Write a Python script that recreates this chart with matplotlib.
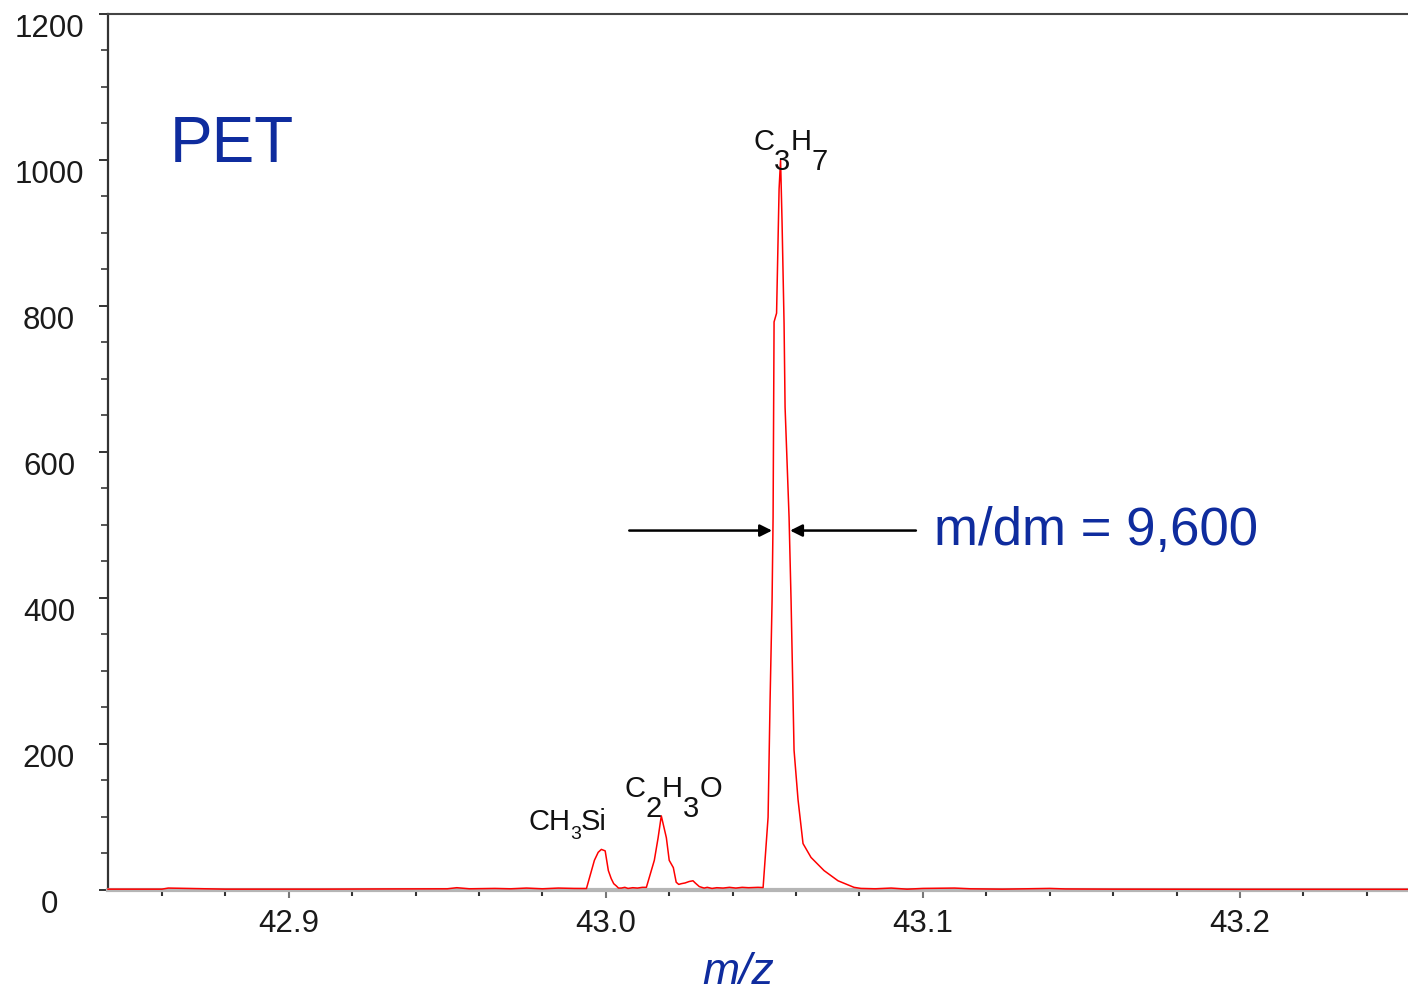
import matplotlib as mpl
import numpy as np
mpl.use('Agg')
import matplotlib.pyplot as plt
from matplotlib.ticker import MultipleLocator


# spectrum (m/z, counts)
mz = [42.843, 42.860, 42.862, 42.880, 42.910, 42.930, 42.950, 42.953, 42.957,
      42.965, 42.970, 42.975, 42.980, 42.985, 42.990, 42.9939,
      42.9964, 42.9976, 42.9986, 42.9998, 43.0008, 43.0017, 43.0025, 43.0033,
      43.0040, 43.0049, 43.0060, 43.0070, 43.0085, 43.0100, 43.0115, 43.0128,
      43.0153, 43.0165, 43.0175, 43.0191, 43.0200, 43.0213, 43.0222, 43.0230,
      43.0238, 43.0250, 43.0263, 43.0275, 43.0282, 43.0295, 43.0310, 43.0320,
      43.0335, 43.0350, 43.0370, 43.0390, 43.0410, 43.0430, 43.0450, 43.0480,
      43.04961, 43.05118, 43.05181, 43.05244, 43.05276, 43.05307, 43.05386,
      43.05465, 43.05512, 43.05559, 43.05622, 43.05654, 43.05780, 43.05843,
      43.05906, 43.05937, 43.06063, 43.06220, 43.06472, 43.06882, 43.07323,
      43.07827, 43.08047, 43.0850, 43.0900, 43.0950, 43.1000, 43.1100,
      43.1150, 43.1250, 43.1400, 43.1450, 43.1600, 43.2000, 43.2530]
counts = [0.5, 0.5, 2.0, 0.5, 0.5, 0.8, 1.0, 2.5, 1.0,
          1.5, 1.0, 2.0, 1.0, 2.0, 1.5, 1.4,
          40, 51, 55, 53, 26, 15, 8, 5,
          2, 2, 3, 1.5, 2.5, 2, 3, 3,
          40, 71, 101, 71, 40, 30, 10, 7,
          8, 9, 11, 12, 9, 4, 2, 3,
          1.5, 2.5, 2, 3, 2, 3, 2.5, 3,
          2.7, 99, 259, 396, 510, 778, 790,
          960, 1000, 914, 776, 661, 510, 396,
          259, 191, 123, 63, 44, 26, 12,
          3, 1.5, 1, 2, 0.5, 1.5, 2,
          1, 0.5, 1.5, 0.8, 0.5, 0.3, 0.3]

y_ticks = [0, 200, 400, 600, 800, 1000, 1200]
x_ticks = [42.9, 43.0, 43.1, 43.2]
x_tick_labels = ['42.9', '43.0', '43.1', '43.2']

# fwhm markers around the main peak
fwhm_left = 43.05244
fwhm_right = 43.05811
fwhm_level = 492

blue = '#0f2c9e'
plt.rcParams['font.family'] = ['Liberation Sans', 'DejaVu Sans']


def formula(ax, x, y, parts):
    # parts: (text, baseline shift in points, fontsize); pieces are chained left to right
    txt, shift, size = parts[0]
    t = ax.text(x, y, txt, fontsize=size, va='baseline', ha='left', color='#111111')
    prev = shift
    for txt, shift, size in parts[1:]:
        t = ax.annotate(txt, xy=(1, 0), xycoords=t, xytext=(0, shift - prev),
                        textcoords='offset points', fontsize=size,
                        va='bottom', ha='left', color='#111111')
        prev = shift


fig = plt.figure(figsize=(14.08, 9.92), dpi=100)
ax = fig.add_axes([0.0767, 0.1033, 0.9233, 0.8826])

ax.plot(mz, counts, color='#ff0000', lw=1.1, zorder=3, clip_on=False)

ax.set_xlim(42.843, 43.253)
ax.set_ylim(0, 1200)

# axes look
ax.spines['right'].set_visible(False)
ax.spines['top'].set_color('#444444')
ax.spines['top'].set_linewidth(1.5)
ax.spines['left'].set_color('#333333')
ax.spines['left'].set_linewidth(1.6)
ax.spines['bottom'].set_color('#b5b5b5')
ax.spines['bottom'].set_linewidth(3)

ax.set_yticks(y_ticks)
ax.yaxis.set_minor_locator(MultipleLocator(50))
ax.set_xticks(x_ticks)
ax.set_xticklabels(x_tick_labels)
ax.xaxis.set_minor_locator(MultipleLocator(0.02))

ax.tick_params(axis='y', which='major', direction='out', length=6.5, width=1.4,
               color='#333333', labelsize=22.5, labelcolor='#1a1a1a', pad=36)
ax.tick_params(axis='y', which='minor', direction='out', length=5, width=1.4,
               color='#555555')
ax.tick_params(axis='x', which='major', direction='out', length=6, width=1.5,
               color='#777777', labelsize=22.5, labelcolor='#1a1a1a', pad=8)
ax.tick_params(axis='x', which='minor', direction='out', length=4.5, width=1.5,
               color='#333333')
for lab in ax.get_yticklabels():
    lab.set_ha('center')
    lab.set_va('top')

# labels
ax.text(42.8625, 997, 'PET', fontsize=46, color=blue, va='baseline', ha='left')
ax.text(43.1035, 472, 'm/dm = 9,600', fontsize=38, color=blue, va='baseline', ha='left')
fig.text(0.524, 0.020, 'm/z', fontsize=32, color=blue, style='italic',
         ha='center', va='center')

formula(ax, 43.0465, 1014, [('C', 0, 21), ('3', -14.5, 21), ('H', 0, 21), ('7', -14.5, 21)])
formula(ax, 43.0060, 127, [('C', 0, 21), ('2', -14.5, 21), ('H', 0, 21), ('3', -14.5, 21), ('O', 0, 21)])
formula(ax, 42.9755, 82, [('CH', 0, 21), ('3', -5, 14), ('Si', 0, 21)])

# arrows marking the peak width
arrow = dict(arrowstyle='-|>', color='black', lw=1.8, mutation_scale=18,
             shrinkA=0, shrinkB=0)
ax.annotate('', xy=(fwhm_left, fwhm_level), xytext=(43.0074, fwhm_level), arrowprops=arrow)
ax.annotate('', xy=(fwhm_right, fwhm_level), xytext=(43.0978, fwhm_level), arrowprops=arrow)

fig.savefig('out.png', dpi=100)
